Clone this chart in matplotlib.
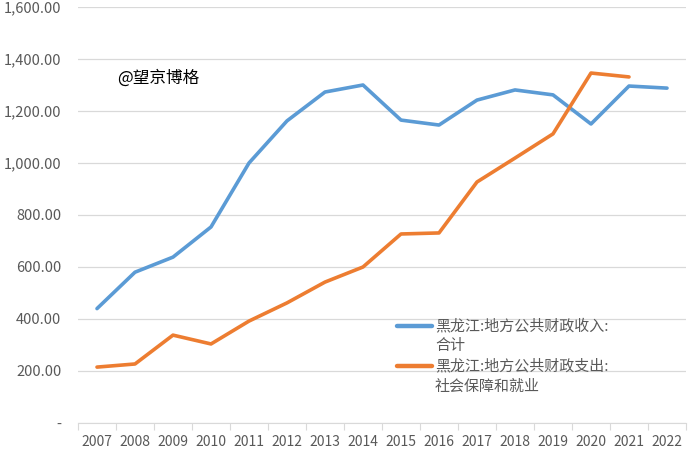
import matplotlib

matplotlib.use("Agg")
import matplotlib.pyplot as plt
from matplotlib.lines import Line2D

plt.rcParams["font.family"] = ["Noto Sans CJK SC", "DejaVu Sans"]
plt.rcParams["axes.unicode_minus"] = False

years = [str(y) for y in range(2007, 2023)]
revenue = [440, 580, 638, 754, 1000, 1162, 1273, 1300, 1165, 1146, 1242, 1281, 1262, 1150, 1296, 1288]
social = [215, 227, 338, 304, 392, 462, 542, 600, 727, 731, 927, 1019, 1112, 1346, 1331]

label_rev = "黑龙江:地方公共财政收入:\n合计"
label_soc = "黑龙江:地方公共财政支出:\n社会保障和就业"
c_rev = "#5B9BD5"
c_soc = "#ED7D31"

W, H = 699, 453
fig = plt.figure(figsize=(W / 100, H / 100), dpi=100)
ax = fig.add_axes([78 / W, 30 / H, 608 / W, 416 / H])

ax.plot(range(len(revenue)), revenue, color=c_rev, lw=2.6, solid_capstyle="round")
ax.plot(range(len(social)), social, color=c_soc, lw=2.6, solid_capstyle="round")

ax.set_ylim(0, 1600)
ax.set_xlim(-0.5, len(years) - 0.5)
ax.set_yticks(range(0, 1601, 200))
ax.set_yticklabels(["-"] + [f"{v:,.2f}" for v in range(200, 1601, 200)])
ax.grid(axis="y", color="#d9d9d9", lw=0.9)
ax.set_axisbelow(True)

# category boundaries get the tick marks, centres get the labels
ax.set_xticks([i - 0.5 for i in range(len(years) + 1)])
ax.set_xticklabels([])
ax.set_xticks(range(len(years)), minor=True)
ax.set_xticklabels(years, minor=True)
ax.tick_params(axis="x", which="major", length=5, color="#d9d9d9")
ax.tick_params(axis="x", which="minor", length=0, pad=9, labelsize=10, labelcolor="#595959")
ax.tick_params(axis="y", length=0, pad=12, labelsize=10.5, labelcolor="#595959")

for s in ["top", "right", "left"]:
    ax.spines[s].set_visible(False)
ax.spines["bottom"].set_color("#d9d9d9")

fig.text(117 / W, 1 - 78 / H, "@望京博格", fontsize=12, va="center", ha="left", color="#000000")

# Excel-style legend: handle aligned with the first text line
for (label, color, y0) in [(label_rev, c_rev, 326), (label_soc, c_soc, 366)]:
    fig.add_artist(Line2D([397 / W, 432 / W], [1 - y0 / H, 1 - y0 / H],
                          color=color, lw=3.2, solid_capstyle="round"))
    fig.text(435 / W, 1 - (y0 - 7) / H, label, fontsize=10.8, color="#595959",
             va="top", ha="left", linespacing=1.5)

fig.savefig("out.png", dpi=100, facecolor="white")
